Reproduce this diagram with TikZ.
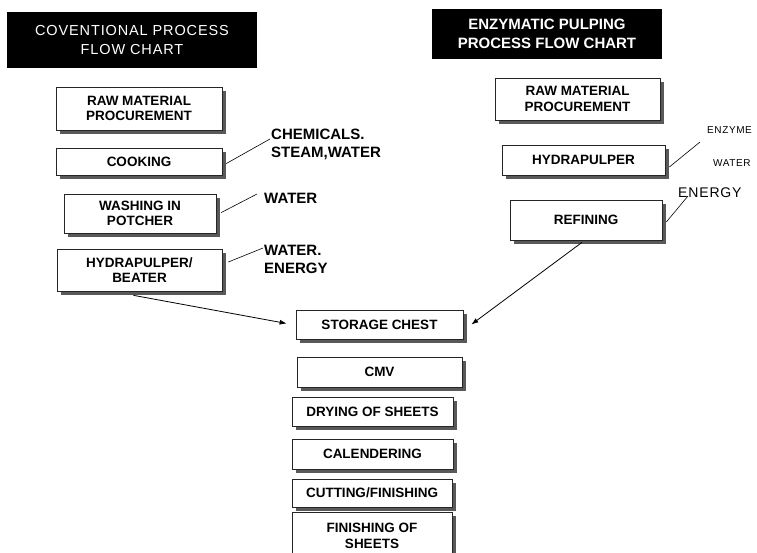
\documentclass[tikz,border=0pt]{standalone}
\usepackage{fontspec}
\setmainfont{Liberation Sans}
\newfontfamily\spacedsans[LetterSpace=6]{Liberation Sans}
\usetikzlibrary{positioning,arrows.meta,shadows}

\begin{document}
\begin{tikzpicture}[x=1pt,y=-1pt,every node/.style={inner sep=1pt},
    stepbox/.style={draw=black!85,line width=.7pt,fill=white,align=center,inner sep=0pt,
      font=\fontsize{13.5}{15.5}\selectfont\bfseries,
      drop shadow={shadow xshift=4pt,shadow yshift=-4pt,fill=black!65,opacity=1}},
    headbox/.style={fill=black,text=white,align=center,inner sep=0pt},
    inlabel/.style={anchor=west,align=left,font=\fontsize{15}{18}\selectfont\bfseries},
    feed/.style={line width=.6pt},
    flow/.style={line width=.8pt,-{Latex[length=7pt,width=5pt]}}]
        \useasboundingbox (0,0) rectangle (757,553);
        % headings
        \node[headbox,minimum width=250pt,minimum height=56pt,font=\spacedsans\fontsize{14.5}{19}\selectfont] (convhead) at (132,40) {COVENTIONAL PROCESS\\FLOW CHART};
        \node[headbox,minimum width=230pt,minimum height=50pt,font=\fontsize{15}{19}\selectfont\bfseries] (enzhead) at (547,34) {ENZYMATIC PULPING\\PROCESS FLOW CHART};
        % conventional column
        \node[stepbox,minimum width=166pt,minimum height=43pt] (lraw) at (139,108.5) {RAW MATERIAL\\PROCUREMENT};
        \node[stepbox,minimum width=166pt,minimum height=27pt] (cook) at (139,161.5) {COOKING};
        \node[stepbox,minimum width=152pt,minimum height=39pt] (wash) at (140,213.5) {WASHING IN\\POTCHER};
        \node[stepbox,minimum width=165pt,minimum height=42pt] (lhydra) at (139.5,270) {HYDRAPULPER/\\BEATER};
        \node[inlabel] (chem) at (270,144) {CHEMICALS.\\STEAM,WATER};
        \node[inlabel] (wat) at (263,198) {WATER};
        \node[inlabel] (waten) at (263,259) {WATER.\\ENERGY};
        \draw[feed] ([xshift=4pt,yshift=-2pt]cook.east) -- ([yshift=5pt]chem.west);
        \draw[feed] ([xshift=5pt,yshift=1pt]wash.east) -- ([xshift=-6pt,yshift=4pt]wat.west);
        \draw[feed] ([xshift=6pt,yshift=8pt]lhydra.east) -- ([yshift=11pt]waten.west);
        % enzymatic column
        \node[stepbox,minimum width=165pt,minimum height=42pt] (rraw) at (577.5,99) {RAW MATERIAL\\PROCUREMENT};
        \node[stepbox,minimum width=163pt,minimum height=30pt] (rhydra) at (583.5,160) {HYDRAPULPER};
        \node[stepbox,minimum width=152pt,minimum height=40pt] (refine) at (586,220) {REFINING};
        \node[anchor=west,font=\spacedsans\fontsize{10}{12}\selectfont] (enz) at (706,130) {ENZYME};
        \node[anchor=west,font=\spacedsans\fontsize{10}{12}\selectfont] (rwat) at (712,163) {WATER};
        \node[anchor=west,font=\spacedsans\fontsize{14}{16}\selectfont] (energy) at (677,193) {ENERGY};
        \coordinate (enztip) at (700,142);
        \draw[feed] ([xshift=4pt,yshift=-7pt]rhydra.east) -- (enztip);
        \draw[feed] ([xshift=4pt,yshift=-2pt]refine.east) -- ([xshift=11pt,yshift=-3pt]energy.west);
        % common line
        \node[stepbox,minimum width=167pt,minimum height=29pt] (chest) at (379.5,324.5) {STORAGE CHEST};
        \node[stepbox,minimum width=165pt,minimum height=30pt] (cmv) at (379.5,372) {CMV};
        \node[stepbox,minimum width=161pt,minimum height=29pt] (dry) at (372.5,411.5) {DRYING OF SHEETS};
        \node[stepbox,minimum width=161pt,minimum height=30pt] (calender) at (372.5,454) {CALENDERING};
        \node[stepbox,minimum width=160pt,minimum height=28pt] (cut) at (372,493) {CUTTING/FINISHING};
        \node[stepbox,minimum width=160pt,minimum height=48pt] (finish) at (372,536) {FINISHING OF\\SHEETS};
        \draw[flow] ([xshift=-6pt,yshift=-4pt]lhydra.south) -- ([xshift=-9pt,yshift=1pt]chest.west);
        \draw[flow] ([xshift=-4pt,yshift=-2pt]refine.south) -- ([xshift=8pt]chest.east);
      \end{tikzpicture}
\end{document}
